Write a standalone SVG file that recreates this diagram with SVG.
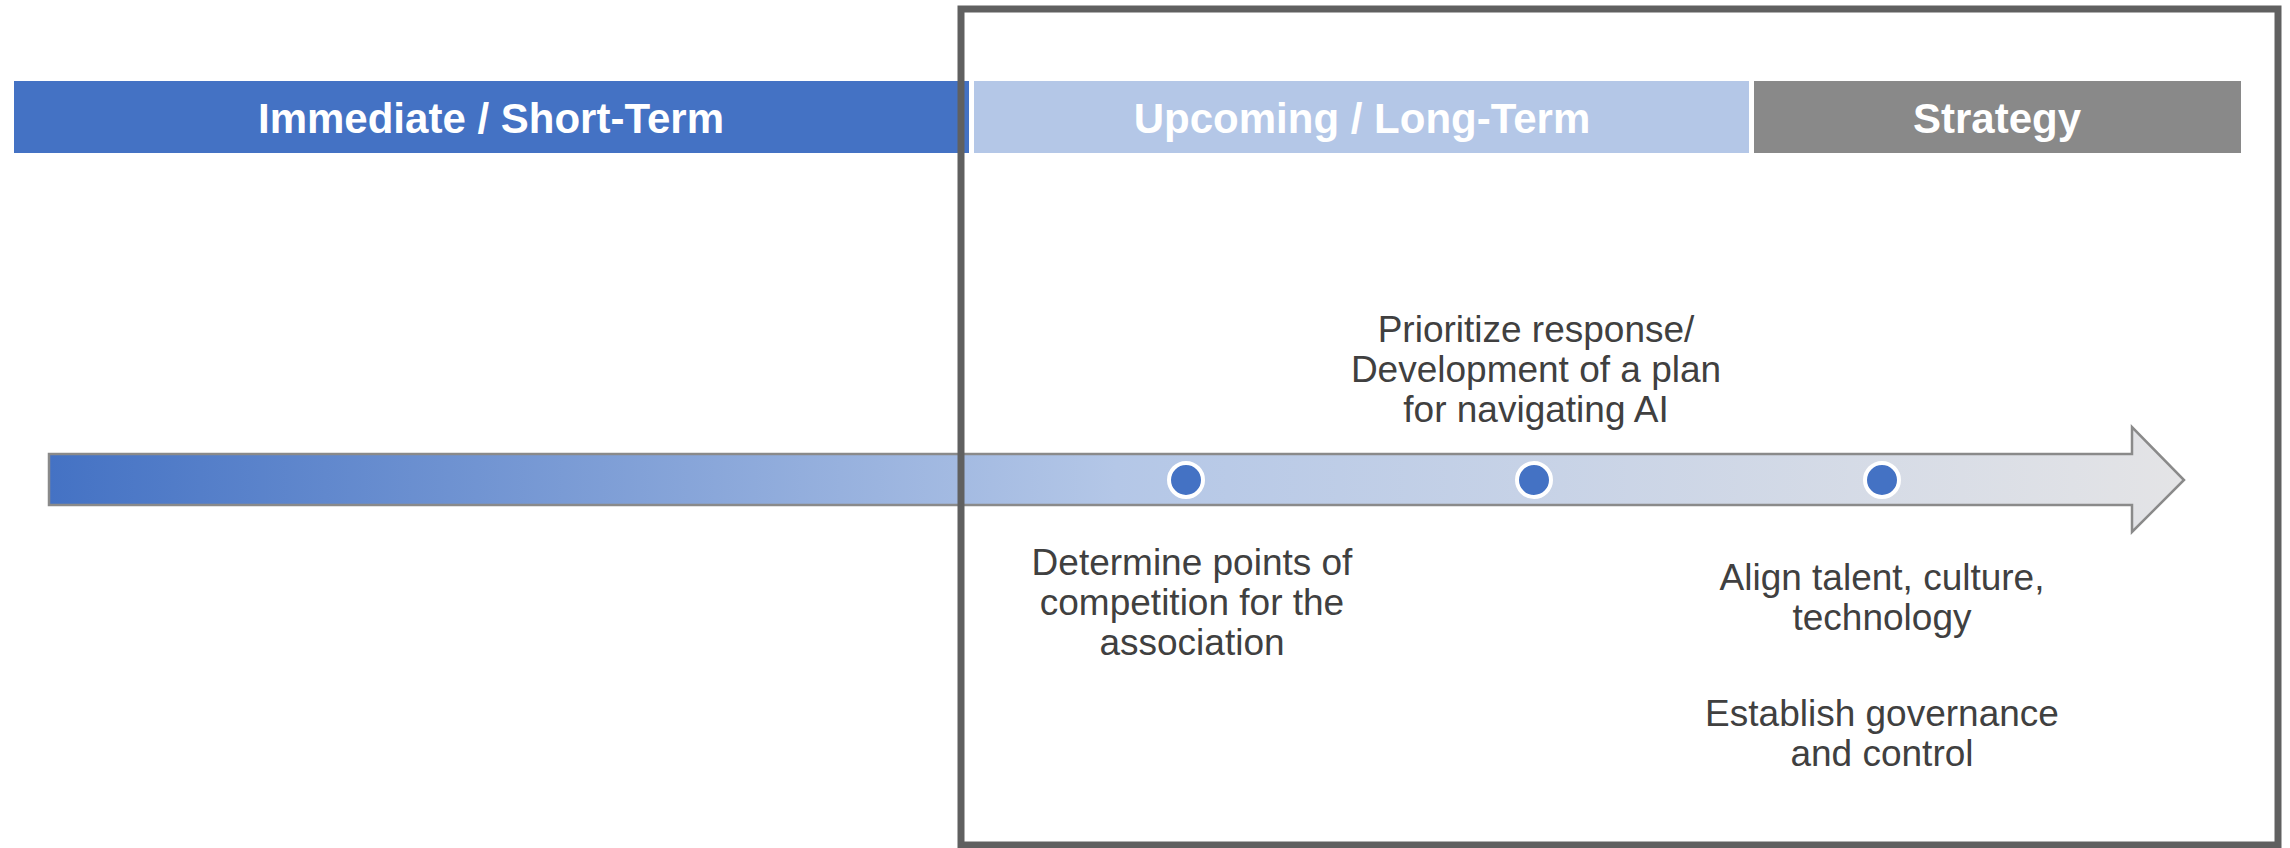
<svg xmlns="http://www.w3.org/2000/svg" width="2290" height="848" viewBox="0 0 2290 848">
  <defs>
    <linearGradient id="shaftFill" gradientUnits="userSpaceOnUse" x1="49" y1="0" x2="2184" y2="0">
      <stop offset="0" stop-color="#4472C4"/>
      <stop offset="0.5" stop-color="#B4C7E7"/>
      <stop offset="1" stop-color="#E4E4E6"/>
    </linearGradient>
    <style>
      .bar-label { font-family: "Liberation Sans", Arial, sans-serif; font-weight: bold; font-size: 42px; fill: #FFFFFF; text-anchor: middle; }
      .note { font-family: "Liberation Sans", Arial, sans-serif; font-size: 37px; fill: #404040; text-anchor: middle; }
      .dot { fill: #4472C4; stroke: #FFFFFF; stroke-width: 4; }
    </style>
  </defs>

  <rect x="0" y="0" width="2290" height="848" fill="#FFFFFF"/>

  <!-- phase header bars -->
  <g id="phase-short">
    <rect x="14" y="81" width="955" height="72" fill="#4472C4"/>
    <text class="bar-label" x="491" y="133">Immediate / Short-Term</text>
  </g>
  <g id="phase-long">
    <rect x="974" y="81" width="775" height="72" fill="#B4C7E7"/>
    <text class="bar-label" x="1362" y="133">Upcoming / Long-Term</text>
  </g>
  <g id="phase-strategy">
    <rect x="1754" y="81" width="487" height="72" fill="#898989"/>
    <text class="bar-label" x="1997" y="133">Strategy</text>
  </g>

  <!-- timeline arrow -->
  <g id="connectors">
    <path d="M49,454 L2132,454 L2132,427 L2184,480 L2132,532 L2132,505 L49,505 Z"
          fill="url(#shaftFill)" stroke="#8A8A8A" stroke-width="2.5" stroke-linejoin="miter"/>
  </g>

  <!-- milestones -->
  <g id="milestone-competition">
    <circle class="dot" cx="1186" cy="480" r="17"/>
    <text class="note" x="1192" y="575">Determine points of</text>
    <text class="note" x="1192" y="615">competition for the</text>
    <text class="note" x="1192" y="655">association</text>
  </g>
  <g id="milestone-plan">
    <circle class="dot" cx="1534" cy="480" r="17"/>
    <text class="note" x="1536" y="342">Prioritize response/</text>
    <text class="note" x="1536" y="382">Development of a plan</text>
    <text class="note" x="1536" y="422">for navigating AI</text>
  </g>
  <g id="milestone-align">
    <circle class="dot" cx="1882" cy="480" r="17"/>
    <text class="note" x="1882" y="590">Align talent, culture,</text>
    <text class="note" x="1882" y="630">technology</text>
    <text class="note" x="1882" y="726">Establish governance</text>
    <text class="note" x="1882" y="766">and control</text>
  </g>

  <!-- focus frame around upcoming and strategy phases -->
  <g id="focus-frame">
    <rect x="961" y="9" width="1317" height="836" fill="none" stroke="#606060" stroke-width="7"/>
  </g>
</svg>
